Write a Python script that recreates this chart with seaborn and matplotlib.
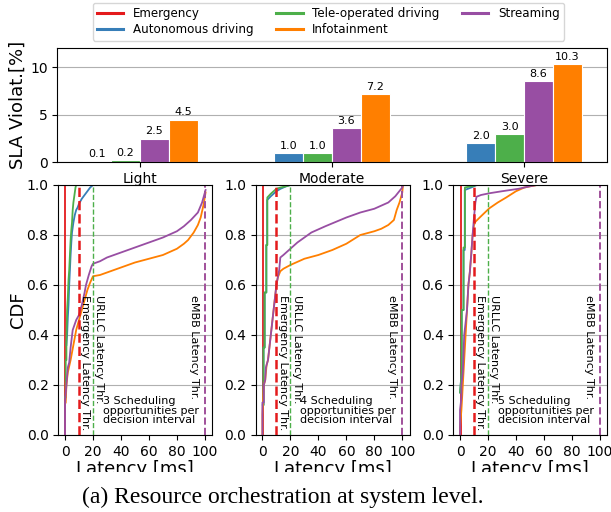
import numpy as np
import pandas as pd
import matplotlib
matplotlib.use("Agg")
import matplotlib.pyplot as plt
from matplotlib.lines import Line2D
from matplotlib.patches import Rectangle
import seaborn as sns

# ---------------- data ----------------
loads = ["Light", "Moderate", "Severe"]
bar_apps = ["Autonomous driving", "Tele-operated driving", "Streaming", "Infotainment"]
sla_autonomous = [0.1, 1.0, 2.0]
sla_teleop = [0.2, 1.0, 3.0]
sla_streaming = [2.5, 3.6, 8.6]
sla_infotainment = [4.5, 7.2, 10.3]

legend_apps = ["Emergency", "Autonomous driving", "Tele-operated driving", "Infotainment", "Streaming"]
colors = {"Emergency": "#e41a1c", "Autonomous driving": "#377eb8",
          "Tele-operated driving": "#4daf4a", "Streaming": "#984ea3",
          "Infotainment": "#ff7f00"}

# CDF curves (latency ms, cdf) per load level
light_emergency_x = [0.3, 0.3]
light_emergency_y = [0.0, 1.0]
light_autonomous_x = [1.0, 1.5, 2.0, 2.5, 3.0, 3.5, 4.0, 4.5, 5.0, 6.0, 7.0, 8.0, 9.0, 10.0, 12.0, 14.0, 16.0, 18.0, 20.0]
light_autonomous_y = [0.36, 0.40, 0.47, 0.52, 0.60, 0.66, 0.72, 0.77, 0.81, 0.85, 0.88, 0.90, 0.91, 0.925, 0.945, 0.96, 0.975, 0.99, 1.0]
light_teleop_x = [0.0, 0.5, 0.5, 1.0, 1.0, 1.5, 2.0, 2.5, 3.0, 3.5, 4.0, 4.5, 5.0, 5.5, 6.0, 7.0, 7.5, 8.0]
light_teleop_y = [0.15, 0.15, 0.30, 0.30, 0.38, 0.50, 0.55, 0.62, 0.66, 0.72, 0.78, 0.82, 0.85, 0.90, 0.93, 0.97, 0.99, 1.0]
light_streaming_x = [0.0, 0.0, 1.0, 2.0, 3.0, 4.0, 5.5, 8.0, 10.0, 12.0, 14.0, 15.0, 17.0, 19.0, 20.0, 25.0, 30.0, 40.0, 50.0, 60.0, 70.0, 80.0, 85.0, 90.0, 95.0, 98.0, 100.5]
light_streaming_y = [0.0, 0.13, 0.20, 0.27, 0.29, 0.35, 0.42, 0.46, 0.48, 0.52, 0.57, 0.60, 0.64, 0.675, 0.685, 0.695, 0.71, 0.73, 0.75, 0.77, 0.79, 0.815, 0.835, 0.86, 0.89, 0.93, 0.98]
light_infotainment_x = [0.5, 1.0, 2.0, 4.0, 6.0, 8.0, 10.0, 12.0, 14.0, 16.0, 18.0, 20.0, 25.0, 30.0, 40.0, 50.0, 60.0, 70.0, 80.0, 85.0, 88.0, 92.0, 95.0, 97.0, 99.0, 100.5]
light_infotainment_y = [0.13, 0.20, 0.25, 0.30, 0.36, 0.42, 0.46, 0.50, 0.54, 0.58, 0.61, 0.635, 0.64, 0.65, 0.67, 0.69, 0.705, 0.72, 0.745, 0.765, 0.78, 0.81, 0.84, 0.87, 0.92, 0.97]

moderate_emergency_x = [0.3, 0.3]
moderate_emergency_y = [0.0, 1.0]
moderate_autonomous_x = [0.3, 0.8, 0.8, 1.6, 1.6, 2.8, 2.8, 3.4, 3.4, 6.0, 10.0, 13.0, 17.0, 20.0]
moderate_autonomous_y = [0.12, 0.12, 0.35, 0.35, 0.57, 0.57, 0.76, 0.76, 0.94, 0.955, 0.975, 0.985, 0.995, 1.0]
moderate_teleop_x = [0.3, 0.8, 0.8, 1.6, 1.6, 2.8, 2.8, 3.5, 3.5, 6.0, 10.0, 13.0, 17.0, 20.0]
moderate_teleop_y = [0.12, 0.12, 0.35, 0.35, 0.57, 0.57, 0.76, 0.76, 0.95, 0.965, 0.985, 0.99, 0.995, 1.0]
moderate_streaming_x = [0.0, 0.0, 1.0, 1.0, 2.0, 2.5, 4.0, 5.0, 6.0, 7.0, 8.0, 9.0, 10.0, 11.0, 12.0, 12.8, 15.0, 20.0, 25.0, 30.0, 35.0, 45.0, 60.0, 70.0, 80.0, 90.0, 95.0, 100.0, 100.5]
moderate_streaming_y = [0.0, 0.13, 0.13, 0.20, 0.22, 0.27, 0.30, 0.35, 0.40, 0.45, 0.50, 0.55, 0.60, 0.63, 0.66, 0.71, 0.72, 0.745, 0.77, 0.79, 0.81, 0.835, 0.87, 0.89, 0.905, 0.93, 0.955, 0.99, 1.0]
moderate_infotainment_x = [0.0, 0.0, 1.0, 2.0, 3.0, 4.0, 5.0, 6.0, 8.0, 10.0, 11.0, 12.8, 15.0, 20.0, 30.0, 40.0, 50.0, 60.0, 70.0, 80.0, 85.0, 90.0, 94.0, 96.0, 98.0, 100.0, 100.5]
moderate_infotainment_y = [0.0, 0.08, 0.20, 0.22, 0.28, 0.30, 0.35, 0.40, 0.50, 0.60, 0.63, 0.655, 0.665, 0.68, 0.705, 0.72, 0.74, 0.765, 0.80, 0.815, 0.825, 0.84, 0.86, 0.90, 0.93, 0.97, 1.0]

severe_emergency_x = [0.5, 0.5]
severe_emergency_y = [0.0, 1.0]
severe_autonomous_x = [0.0, 1.2, 1.2, 2.5, 2.5, 3.4, 3.4, 8.0, 12.0]
severe_autonomous_y = [0.17, 0.25, 0.50, 0.50, 0.74, 0.74, 0.98, 0.99, 1.0]
severe_teleop_x = [0.0, 1.2, 1.2, 2.5, 2.5, 3.5, 3.5, 8.0, 12.0]
severe_teleop_y = [0.17, 0.25, 0.50, 0.50, 0.75, 0.75, 0.99, 0.995, 1.0]
severe_streaming_x = [0.0, 0.0, 1.0, 1.0, 2.0, 3.0, 4.0, 5.0, 6.0, 7.0, 8.0, 9.0, 10.0, 11.0, 11.8, 15.0, 21.0, 30.0, 42.0, 50.0, 55.0]
severe_streaming_y = [0.0, 0.10, 0.15, 0.20, 0.25, 0.40, 0.45, 0.50, 0.60, 0.65, 0.72, 0.80, 0.87, 0.93, 0.953, 0.96, 0.967, 0.975, 0.985, 0.995, 1.0]
severe_infotainment_x = [0.0, 0.0, 1.0, 2.0, 3.0, 4.0, 5.0, 6.0, 7.0, 8.0, 9.0, 10.0, 11.0, 15.0, 21.0, 27.0, 33.0, 40.0, 46.0, 55.0]
severe_infotainment_y = [0.0, 0.03, 0.10, 0.20, 0.30, 0.40, 0.50, 0.60, 0.65, 0.72, 0.80, 0.84, 0.853, 0.875, 0.907, 0.93, 0.95, 0.975, 0.99, 1.0]

thresholds = {"Emergency": 10, "URLLC": 20, "eMBB": 100}
opportunities = [3, 4, 5]

cdf_data = {
    "Light": [(light_emergency_x, light_emergency_y, "Emergency"),
              (light_autonomous_x, light_autonomous_y, "Autonomous driving"),
              (light_teleop_x, light_teleop_y, "Tele-operated driving"),
              (light_infotainment_x, light_infotainment_y, "Infotainment"),
              (light_streaming_x, light_streaming_y, "Streaming")],
    "Moderate": [(moderate_emergency_x, moderate_emergency_y, "Emergency"),
                 (moderate_autonomous_x, moderate_autonomous_y, "Autonomous driving"),
                 (moderate_teleop_x, moderate_teleop_y, "Tele-operated driving"),
                 (moderate_infotainment_x, moderate_infotainment_y, "Infotainment"),
                 (moderate_streaming_x, moderate_streaming_y, "Streaming")],
    "Severe": [(severe_emergency_x, severe_emergency_y, "Emergency"),
               (severe_autonomous_x, severe_autonomous_y, "Autonomous driving"),
               (severe_teleop_x, severe_teleop_y, "Tele-operated driving"),
               (severe_infotainment_x, severe_infotainment_y, "Infotainment"),
               (severe_streaming_x, severe_streaming_y, "Streaming")],
}

# ---------------- figure ----------------
plt.rcParams["font.family"] = ["DejaVu Sans"]
W, H = 611, 512
fig = plt.figure(figsize=(W / 100, H / 100), dpi=100)

def fx(px):
    return px / W

def fy(py):
    return 1 - py / H

# bar chart
axb = fig.add_axes([fx(57.3), fy(162.3), fx(606.7 - 57.3), (162.3 - 48.3) / H])
bar_df = pd.DataFrame({
    "load": loads * 4,
    "app": [a for a in bar_apps for _ in loads],
    "value": sla_autonomous + sla_teleop + sla_streaming + sla_infotainment,
})
sns.barplot(data=bar_df, x="load", y="value", hue="app", hue_order=bar_apps, order=loads,
            palette=[colors[a] for a in bar_apps], saturation=1, width=0.6,
            edgecolor="white", linewidth=0.8, errorbar=None, legend=False, ax=axb)
for cont in axb.containers:
    axb.bar_label(cont, fmt="%.1f", fontsize=8, padding=1.5)
axb.set_xlim(-0.43, 2.43)
axb.set_ylim(0, 12)
axb.set_yticks([0, 5, 10])
axb.set_xlabel("")
axb.set_ylabel("SLA Violat.[%]", fontsize=13, labelpad=2)
axb.tick_params(labelsize=10)
axb.grid(axis="y", color="#b0b0b0", lw=0.8)
axb.set_axisbelow(True)

handles = [Line2D([0], [0], color=colors[a], lw=2.2) for a in legend_apps]
axb.legend(handles, legend_apps, ncol=3, loc="lower center", bbox_to_anchor=(0.4936, 1.067),
           fontsize=8.6, frameon=True, borderaxespad=0, columnspacing=1.9,
           handlelength=2.2, handletextpad=0.8, borderpad=0.35, labelspacing=0.3)

# CDF panels
lefts = [58.3, 255.7, 453.3]
axes = []
for i, load in enumerate(loads):
    ax = fig.add_axes([fx(lefts[i]), fy(435), fx(154), 250 / H])
    axes.append(ax)
    for xs, ys, app in cdf_data[load]:
        sns.lineplot(x=xs, y=ys, sort=False, estimator=None, color=colors[app], lw=1.3, ax=ax)
    ax.axvline(thresholds["Emergency"], color="#e41a1c", ls="--", lw=1.8)
    ax.axvline(thresholds["URLLC"], color="#4daf4a", ls="--", lw=1.0)
    ax.axvline(thresholds["eMBB"], color="#a0509a", ls="--", lw=1.4)
    ax.set_xlim(-4.8, 105.3)
    ax.set_ylim(0, 1)
    ax.set_xticks([0, 20, 40, 60, 80, 100])
    ax.set_yticks([0.0, 0.2, 0.4, 0.6, 0.8, 1.0])
    ax.yaxis.set_major_formatter(matplotlib.ticker.FormatStrFormatter("%.1f"))
    ax.tick_params(labelsize=10)
    ax.grid(axis="y", color="#b0b0b0", lw=0.8)
    ax.set_axisbelow(True)
    ax.set_xlabel("Latency [ms]", fontsize=13, labelpad=1)
    ax.text(11, 0.56, "Emergency Latency Thr.", rotation=-90, ha="left", va="top", fontsize=8)
    ax.text(21, 0.56, "URLLC Latency Thr.", rotation=-90, ha="left", va="top", fontsize=8)
    ax.text(96, 0.56, "eMBB Latency Thr.", rotation=-90, ha="right", va="top", fontsize=8)
    ax.text(27, 0.155, f"{opportunities[i]} Scheduling\nopportunities per\ndecision interval",
            ha="left", va="top", fontsize=8, linespacing=0.95)
axes[0].set_ylabel("CDF", fontsize=13, labelpad=0)

# crop of the x-labels as in the reference
fig.add_artist(Rectangle((0, fy(485)), 1, (485 - 472) / H, transform=fig.transFigure,
                         facecolor="white", edgecolor="none", zorder=10))

fig.text(fx(282.5), fy(497), "(a) Resource orchestration at system level.",
         ha="center", va="center", fontsize=17, family="Liberation Serif")

fig.savefig("out.png", dpi=100)
